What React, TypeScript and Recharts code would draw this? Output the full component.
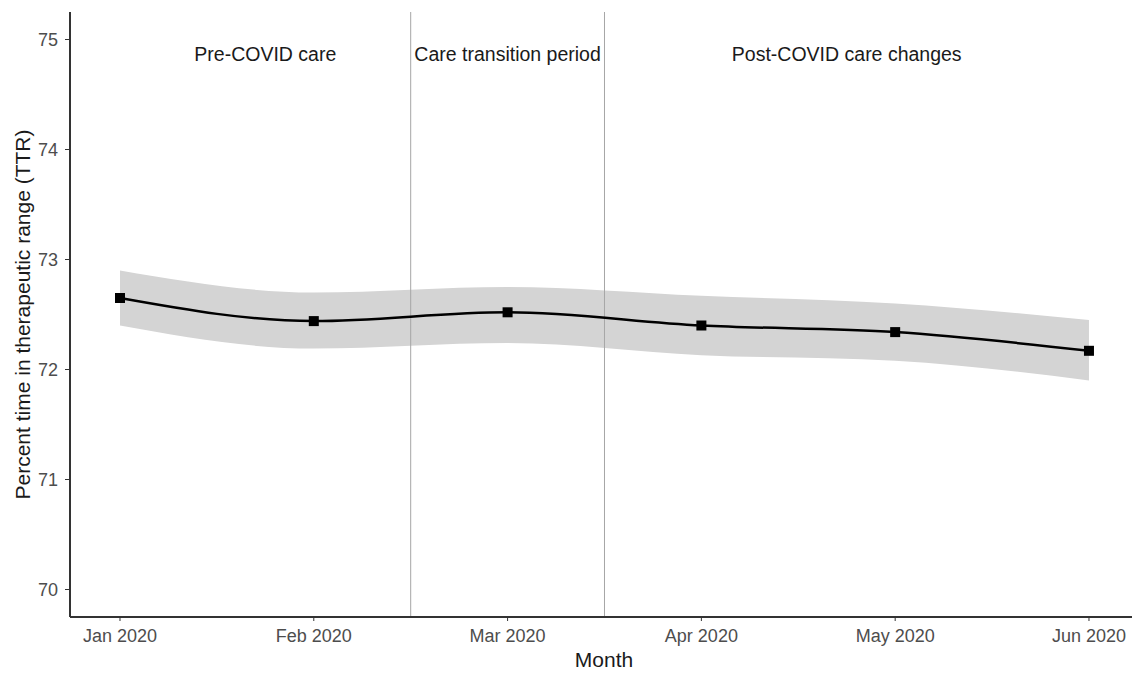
import {
  ComposedChart,
  Area,
  Line,
  XAxis,
  YAxis,
  ReferenceLine,
  ReferenceDot,
} from 'recharts'

// monthly TTR estimates with confidence band
const monthIndex = [0, 1, 2, 3, 4, 5]
const monthLabels = ['Jan 2020', 'Feb 2020', 'Mar 2020', 'Apr 2020', 'May 2020', 'Jun 2020']
const ttr = [72.65, 72.44, 72.52, 72.4, 72.34, 72.17]
const ttrLower = [72.4, 72.19, 72.24, 72.13, 72.08, 71.9]
const ttrUpper = [72.9, 72.7, 72.75, 72.67, 72.6, 72.45]

const periodBreaks = [1.5, 2.5]
const periodNames = ['Pre-COVID care', 'Care transition period', 'Post-COVID care changes']
const periodLabelX = [0.75, 2, 3.75]
const yTicks = [70, 71, 72, 73, 74, 75]

const data = monthIndex.map((m, i) => ({
  m,
  ttr: ttr[i],
  band: [ttrLower[i], ttrUpper[i]],
}))

const font = '"Liberation Sans", Arial, sans-serif'

const SquareDot = (props: any) => {
  const { cx, cy } = props
  if (cx == null || cy == null) return null
  return <rect x={cx - 5} y={cy - 5} width={10} height={10} fill="#000" />
}

const YTitle = (props: any) => {
  const { viewBox } = props
  const x = 14
  const y = viewBox.y + viewBox.height / 2
  return (
    <text
      x={x}
      y={y}
      transform={`rotate(-90 ${x} ${y})`}
      textAnchor="middle"
      dominantBaseline="central"
      fontSize={21}
      fontFamily={font}
      fill="#1a1a1a"
    >
      Percent time in therapeutic range (TTR)
    </text>
  )
}

export default function App() {
  return (
    <div
      style={{
        position: 'absolute',
        left: 8,
        top: 8,
        width: 1124,
        height: 666,
        overflow: 'hidden',
        background: '#fff',
      }}
    >
      <ComposedChart
        width={1140}
        height={666}
        data={data}
        margin={{ top: 4, right: 10, left: 0, bottom: 0 }}
      >
        <XAxis
          dataKey="m"
          type="number"
          domain={[-0.258, 5.253]}
          ticks={monthIndex}
          tickFormatter={(v: number) => monthLabels[v]}
          height={57}
          axisLine={{ stroke: '#333', strokeWidth: 2 }}
          tickLine={{ stroke: '#333' }}
          tickSize={4}
          tickMargin={8}
          tick={{ fontSize: 18, fontFamily: font, fill: '#4d4d4d' }}
          allowDataOverflow
          label={{
            value: 'Month',
            position: 'insideBottom',
            offset: 7,
            fontSize: 21,
            fontFamily: font,
            fill: '#1a1a1a',
          }}
        />
        <YAxis
          type="number"
          domain={[69.75, 75.25]}
          ticks={yTicks}
          width={62}
          axisLine={{ stroke: '#333', strokeWidth: 2 }}
          tickLine={{ stroke: '#333' }}
          tickSize={5}
          tickMargin={7}
          tick={{ fontSize: 18, fontFamily: font, fill: '#4d4d4d' }}
          allowDataOverflow
          label={{ content: YTitle }}
        />
        <Area
          dataKey="band"
          type="monotone"
          stroke="none"
          fill="#d4d4d4"
          fillOpacity={1}
          isAnimationActive={false}
        />
        {periodBreaks.map((b) => (
          <ReferenceLine key={b} x={b} stroke="#a6a6a6" strokeWidth={1} />
        ))}
        <Line
          dataKey="ttr"
          type="monotone"
          stroke="#000"
          strokeWidth={2.5}
          dot={<SquareDot />}
          activeDot={false}
          isAnimationActive={false}
        />
        {periodNames.map((name, i) => (
          <ReferenceDot
            key={name}
            x={periodLabelX[i]}
            y={74.87}
            r={1}
            fill="none"
            stroke="none"
            label={{
              value: name,
              position: 'center',
              fontSize: 19.5,
              fontFamily: font,
              fill: '#1a1a1a',
            }}
          />
        ))}
      </ComposedChart>
    </div>
  )
}
